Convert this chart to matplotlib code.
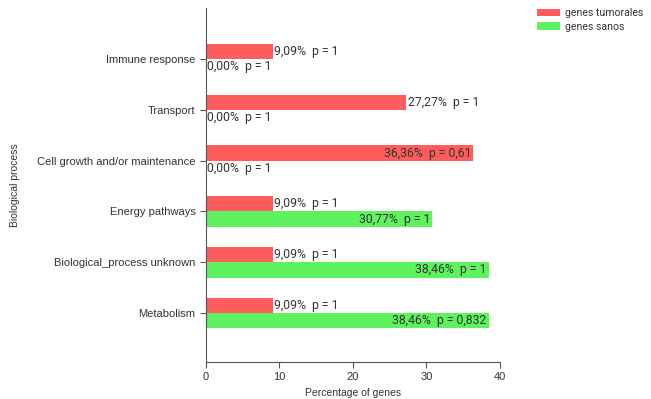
import matplotlib.pyplot as plt
import numpy as np

# data (bottom to top)
categories = [
    "Metabolism",
    "Biological_process unknown",
    "Energy pathways",
    "Cell growth and/or maintenance",
    "Transport",
    "Immune response",
]
tumor_pct = [9.09, 9.09, 9.09, 36.36, 27.27, 9.09]
tumor_p = ["1", "1", "1", "0,61", "1", "1"]
healthy_pct = [38.46, 38.46, 30.77, 0.00, 0.00, 0.00]
healthy_p = ["0,832", "1", "1", "1", "1", "1"]

series_names = ["genes tumorales", "genes sanos"]

red = "#ff5c5e"
green = "#5ef25e"
txt = "#333333"

fig = plt.figure(figsize=(6.51, 3.99), dpi=100)
ax = fig.add_axes([0.3164, 0.0927, 0.4516, 0.887])

y = np.arange(len(categories))
h = 0.3

b1 = ax.barh(y + h / 2, tumor_pct, height=h, color=red, label=series_names[0])
b2 = ax.barh(y - h / 2, healthy_pct, height=h, color=green, label=series_names[1])


def fmt(v):
    return f"{v:.2f}".replace(".", ",") + "%"


# value labels: inside if the bar is long, outside otherwise
for vals, ps, off in [(tumor_pct, tumor_p, h / 2), (healthy_pct, healthy_p, -h / 2)]:
    for i, (v, p) in enumerate(zip(vals, ps)):
        s = f"{fmt(v)}  p = {p}"
        if v > 30:
            ax.text(v - 0.3, i + off, s, ha="right", va="center",
                    fontsize=8.8, color=txt, family="Roboto")
        else:
            ax.text(v + 0.2, i + off, s, ha="left", va="center",
                    fontsize=8.8, color=txt, family="Roboto")

ax.set_xlim(0, 40)
ax.set_ylim(-0.96, 6.0)
ax.set_yticks(y)
ax.set_yticklabels(categories)
ax.set_xticks([0, 10, 20, 30, 40])

for s in ["top", "right"]:
    ax.spines[s].set_visible(False)
for s in ["left", "bottom"]:
    ax.spines[s].set_color("#555555")
    ax.spines[s].set_linewidth(0.8)

ax.tick_params(axis="both", colors="#555555", labelcolor=txt, labelsize=8, length=4, width=0.8)
for lab in ax.get_xticklabels() + ax.get_yticklabels():
    lab.set_family("Liberation Sans")

ax.set_xlabel("Percentage of genes", fontsize=7.5, color=txt, family="Liberation Sans", labelpad=4)
ax.set_ylabel("Biological process", fontsize=7.5, color=txt, family="Liberation Sans", labelpad=12)

fig.legend(handles=[b1, b2], loc="upper left", bbox_to_anchor=(0.813, 0.998),
           frameon=False, handlelength=2.2, handleheight=0.75,
           handletextpad=0.45, labelspacing=0.35, labelcolor=txt,
           borderaxespad=0.3, prop={"family": "Roboto", "size": 7.6})

fig.savefig("out.png", dpi=100)
